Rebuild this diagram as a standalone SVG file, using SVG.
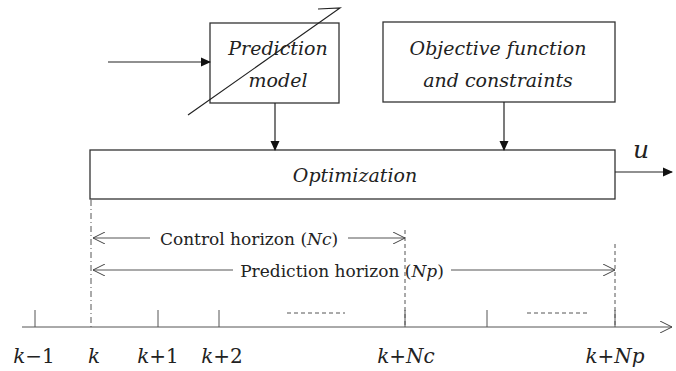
<svg xmlns="http://www.w3.org/2000/svg" width="676" height="371" viewBox="0 0 676 371">
<defs>
<marker id="fill" markerWidth="10" markerHeight="10" refX="9" refY="5" orient="auto" markerUnits="userSpaceOnUse"><path d="M0,0.5 L10,5 L0,9.5 Z" fill="#111"/></marker>
<marker id="open" markerWidth="14" markerHeight="12" refX="12" refY="6" orient="auto" markerUnits="userSpaceOnUse"><path d="M0,0 L12,6 L0,12" fill="none" stroke="#444" stroke-width="1"/></marker>
</defs>
<style>
.box{fill:#fff;stroke:#333;stroke-width:1.3}
.ln{fill:none;stroke:#222;stroke-width:1.2}
.thin{fill:none;stroke:#555;stroke-width:1}
.dash{fill:none;stroke:#555;stroke-width:1;stroke-dasharray:4,3}
.dd{fill:none;stroke:#555;stroke-width:1;stroke-dasharray:6,3,1,3}
.it{font-family:"DejaVu Serif","Liberation Serif",serif;font-style:italic;font-size:19px;fill:#222;text-anchor:middle}
.rm{font-family:"DejaVu Serif","Liberation Serif",serif;font-size:17px;fill:#222;text-anchor:middle}
.ax{font-family:"DejaVu Serif","Liberation Serif",serif;font-size:20px;fill:#222;text-anchor:middle}
</style>
<rect width="676" height="371" fill="#fff"/>
<g id="prediction-model">
<rect class="box" x="210" y="23" width="129" height="80"/>
<text class="it" x="278" y="55">Prediction</text>
<text class="it" x="278" y="87">model</text>
</g>
<g id="objective">
<rect class="box" x="383" y="22" width="232" height="80"/>
<text class="it" x="498" y="55">Objective function</text>
<text class="it" x="498" y="87">and constraints</text>
</g>
<g id="optimization">
<rect class="box" x="90" y="150" width="525" height="49"/>
<text class="it" x="355" y="182">Optimization</text>
</g>
<g id="connectors">
<polyline class="ln" points="318,9 340,8 188,115"/>
<line class="ln" x1="108" y1="62" x2="210" y2="62" marker-end="url(#fill)"/>
<line class="ln" x1="275" y1="103" x2="275" y2="150" marker-end="url(#fill)"/>
<line class="ln" x1="504" y1="102" x2="504" y2="150" marker-end="url(#fill)"/>
<line class="ln" x1="615" y1="172" x2="672" y2="172" marker-end="url(#fill)"/>
<text x="641" y="158" font-family="DejaVu Serif,Liberation Serif,serif" font-style="italic" font-size="25" fill="#222" text-anchor="middle">u</text>
</g>
<g id="horizons">
<line class="dd" x1="91" y1="200" x2="91" y2="327"/>
<line class="dash" x1="405" y1="230" x2="405" y2="327"/>
<line class="dash" x1="615" y1="244" x2="615" y2="327"/>
<line class="thin" x1="150" y1="238" x2="93" y2="238" marker-end="url(#open)"/>
<line class="thin" x1="348" y1="238" x2="405" y2="238" marker-end="url(#open)"/>
<text class="rm" x="249" y="245">Control horizon (<tspan font-style="italic">Nc</tspan>)</text>
<line class="thin" x1="233" y1="270" x2="93" y2="270" marker-end="url(#open)"/>
<line class="thin" x1="451" y1="270" x2="615" y2="270" marker-end="url(#open)"/>
<text class="rm" x="342" y="277">Prediction horizon (<tspan font-style="italic">Np</tspan>)</text>
</g>
<g id="axis">
<line class="thin" x1="22" y1="327" x2="672" y2="327" marker-end="url(#open)"/>
<g class="thin">
<line x1="35" y1="310" x2="35" y2="327"/>
<line x1="158" y1="310" x2="158" y2="327"/>
<line x1="219" y1="310" x2="219" y2="327"/>
<line x1="405" y1="310" x2="405" y2="327"/>
<line x1="487" y1="310" x2="487" y2="327"/>
<line x1="615" y1="310" x2="615" y2="327"/>
</g>
<line class="dash" x1="287" y1="313" x2="345" y2="313"/>
<line class="dash" x1="527" y1="313" x2="587" y2="313"/>
<text class="ax" x="34" y="363"><tspan font-style="italic">k</tspan>−1</text>
<text class="ax" x="94" y="363" font-style="italic">k</text>
<text class="ax" x="158" y="363"><tspan font-style="italic">k</tspan>+1</text>
<text class="ax" x="222" y="363"><tspan font-style="italic">k</tspan>+2</text>
<text class="ax" x="406" y="363" font-style="italic">k+Nc</text>
<text class="ax" x="615" y="363" font-style="italic">k+Np</text>
</g>
</svg>
